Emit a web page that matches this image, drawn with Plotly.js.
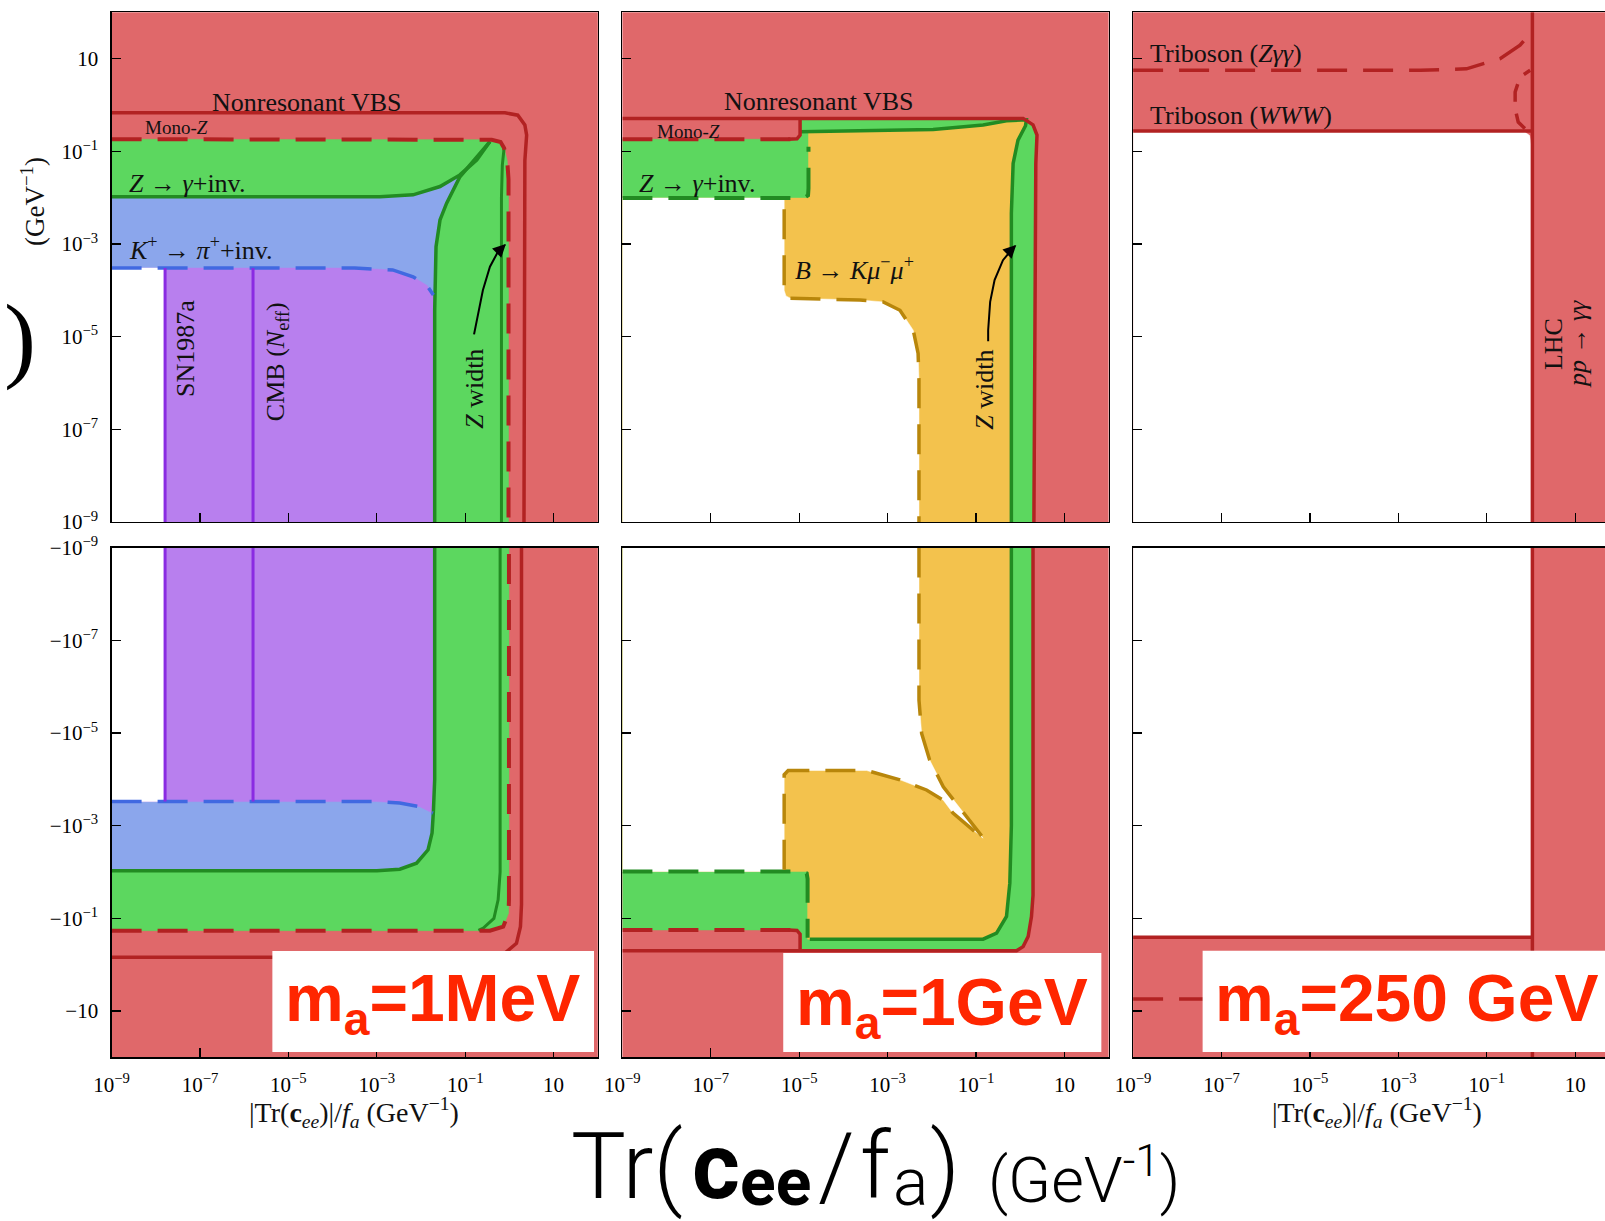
<!DOCTYPE html>
<html><head><meta charset="utf-8">
<script src="https://cdn.plot.ly/plotly-3.0.1.min.js"></script>
<style>body{margin:0;background:#fff}#chart{width:1605px;height:1221px}</style>
</head><body><div id="chart"></div>
<script>
// ---------- axis ticks (exponents of 10) ----------
const TICK_EXP = [-9, -7, -5, -3, -1, 1];
const TICK_TXT_POS = ['10<sup>−9</sup>','10<sup>−7</sup>','10<sup>−5</sup>','10<sup>−3</sup>','10<sup>−1</sup>','10'];
const TICK_TXT_NEG = ['−10<sup>−9</sup>','−10<sup>−7</sup>','−10<sup>−5</sup>','−10<sup>−3</sup>','−10<sup>−1</sup>','−10'];

// All region data below are log10 exponents: x = |Tr(c_ee)|/f_a, y = |coupling| (GeV^-1)
// ---------- Panel 1 : m_a = 1 MeV, upper half ----------
const p1t_green_x = [-9, -9, -0.40, -0.20, -0.12, -0.05, -0.02, -0.02];
const p1t_green_y = [-9, -0.74, -0.75, -0.80, -0.93, -1.20, -1.60, -9];
const p1t_blue_x = [-9, -9, -2.93, -2.18, -1.57, -1.12, -0.74, -0.44, -0.74, -1.12, -1.42, -1.57, -1.66, -1.69, -1.69];
const p1t_blue_y = [-9, -1.98, -1.98, -1.94, -1.76, -1.51, -1.19, -0.79, -1.12, -1.55, -2.12, -2.48, -3.06, -4.43, -9];
const p1t_purple_x = [-9, -9, -3.5, -2.64, -2.18, -1.87, -1.72, -1.69, -1.69];
const p1t_purple_y = [-9, -3.52, -3.52, -3.56, -3.71, -3.89, -4.10, -4.43, -9];
const p1t_white_x = [-9, -9, -7.79, -7.79];
const p1t_white_y = [-9, -3.52, -3.52, -9];
const p1t_gtop_x = [-9, -2.93, -2.18, -1.57, -1.12, -0.74, -0.44];
const p1t_gtop_y = [-1.98, -1.98, -1.94, -1.76, -1.51, -1.19, -0.79];
const p1t_gside_x = [-0.44, -0.74, -1.12, -1.42, -1.57, -1.66, -1.69, -1.69];
const p1t_gside_y = [-0.79, -1.12, -1.55, -2.12, -2.48, -3.06, -4.43, -9];
const p1t_g2_x = [-0.12, -0.16, -0.18, -0.18];
const p1t_g2_y = [-0.93, -1.30, -2.0, -9];
const p1t_kdash_x = [-9, -3.5, -2.64, -2.18, -1.87, -1.72];
const p1t_kdash_y = [-3.52, -3.52, -3.56, -3.71, -3.89, -4.10];
const p1t_rdash_x = [-9, -0.40, -0.20, -0.12, -0.05, -0.02, -0.02];
const p1t_rdash_y = [-0.74, -0.75, -0.80, -0.93, -1.20, -1.60, -9];
const p1t_vbs_x = [-9, -0.10, 0.19, 0.35, 0.39, 0.35, 0.33];
const p1t_vbs_y = [-0.17, -0.17, -0.22, -0.43, -0.65, -1.20, -9];
const p1t_sn_x = [-7.79, -7.79], p1t_sn_y = [-3.52, -9];
const p1t_cmb_x = [-5.80, -5.80], p1t_cmb_y = [-3.52, -9];
const p1t_arrow_x = [-0.80, -0.72, -0.60, -0.44, -0.26, -0.10];
const p1t_arrow_y = [-4.95, -4.55, -4.00, -3.49, -3.17, -3.02];

// ---------- Panel 1 : lower half (negative couplings, magnitudes) ----------
const p1b_green_x = [-9, -9, -0.44, -0.14, -0.02, -0.01, -0.01];
const p1b_green_y = [-9, -0.735, -0.735, -0.82, -1.11, -1.40, -9];
const p1b_blue_x = [-9, -3.0, -2.48, -2.10, -1.84, -1.75, -1.72, -1.69, -1.69, -9];
const p1b_blue_y = [-2.03, -2.03, -2.06, -2.19, -2.48, -2.84, -3.30, -4.0, -9, -9];
const p1b_purple_x = [-9, -3.0, -2.48, -2.03, -1.73, -1.70, -1.69, -9];
const p1b_purple_y = [-3.52, -3.52, -3.49, -3.41, -3.27, -3.6, -9, -9];
const p1b_white_x = [-9, -7.79, -7.79, -9];
const p1b_white_y = [-9, -9, -3.52, -3.52];
const p1b_gline_x = [-9, -3.0, -2.48, -2.10, -1.84, -1.75, -1.72, -1.69, -1.69];
const p1b_gline_y = [-2.03, -2.03, -2.06, -2.19, -2.48, -2.84, -3.30, -4.0, -9];
const p1b_g2_x = [-0.70, -0.59, -0.35, -0.255, -0.21, -0.21];
const p1b_g2_y = [-0.74, -0.79, -1.0, -1.40, -2.0, -9];
const p1b_kdash_x = [-9, -3.0, -2.48, -2.03, -1.73];
const p1b_kdash_y = [-3.52, -3.52, -3.49, -3.41, -3.27];
const p1b_rdash_x = [-9, -0.44, -0.14, -0.02, -0.01, -0.01];
const p1b_rdash_y = [-0.735, -0.735, -0.82, -1.11, -1.40, -9];
const p1b_vbs_x = [-9, -0.60, -0.10, 0.16, 0.25, 0.274, 0.274];
const p1b_vbs_y = [-0.16, -0.16, -0.25, -0.46, -0.82, -1.3, -9];
const p1b_sn_x = [-7.79, -7.79], p1b_sn_y = [-9, -3.52];
const p1b_cmb_x = [-5.80, -5.80], p1b_cmb_y = [-9, -3.52];

// ---------- Panel 2 : m_a = 1 GeV, upper half ----------
const p2t_green_x = [-9, -9, -5.10, -4.98, -4.98, 0.066, 0.29, 0.38, 0.353, 0.31];
const p2t_green_y = [-9, -0.74, -0.74, -0.70, -0.29, -0.29, -0.43, -0.65, -1.26, -9];
const p2t_orange_x = [-9, -9, -4.79, -4.79, -3.475, -1.97, -0.84, -0.31, 0.14, 0.12, -0.05, -0.16, -0.20, -0.20];
const p2t_orange_y = [-9, -2.01, -2.01, -0.58, -0.556, -0.53, -0.43, -0.34, -0.32, -0.45, -0.76, -1.26, -2.34, -9];
const p2t_white_x = [-9, -9, -5.34, -5.34, -5.30, -5.20, -3.63, -3.10, -2.72, -2.42, -2.31, -2.29, -2.29];
const p2t_white_y = [-9, -2.01, -2.01, -4.00, -4.12, -4.17, -4.21, -4.25, -4.43, -4.86, -5.36, -5.94, -9];
const p2t_vbs_x = [-9, 0.066, 0.29, 0.38, 0.353, 0.31];
const p2t_vbs_y = [-0.29, -0.29, -0.43, -0.65, -1.26, -9];
const p2t_monoz_dash_x = [-9, -5.10], p2t_monoz_dash_y = [-0.74, -0.74];
const p2t_monoz_edge_x = [-5.25, -5.05, -4.98, -4.98];
const p2t_monoz_edge_y = [-0.74, -0.73, -0.65, -0.29];
const p2t_gline_x = [-4.98, -3.475, -1.97, -0.84, -0.31, 0.14, 0.12, -0.05, -0.16, -0.20, -0.20];
const p2t_gline_y = [-0.58, -0.556, -0.53, -0.43, -0.34, -0.32, -0.45, -0.76, -1.26, -2.34, -9];
const p2t_gdash_x = [-9, -4.90, -4.80, -4.79, -4.79];
const p2t_gdash_y = [-2.01, -2.01, -1.95, -1.80, -0.90];
const p2t_odash_x = [-5.34, -5.34, -5.30, -5.20, -3.63, -3.10, -2.72, -2.42, -2.31, -2.29, -2.29];
const p2t_odash_y = [-2.25, -4.00, -4.12, -4.17, -4.21, -4.25, -4.43, -4.86, -5.36, -5.94, -9];
const p2t_arrow_x = [-0.725, -0.725, -0.68, -0.58, -0.39, -0.12];
const p2t_arrow_y = [-5.10, -4.86, -4.25, -3.78, -3.35, -3.04];

// ---------- Panel 2 : lower half ----------
const p2b_green_x = [-9, -9, -5.10, -4.98, -4.98, -0.083, 0.066, 0.18, 0.255, 0.29, 0.29];
const p2b_green_y = [-9, -0.75, -0.75, -0.70, -0.30, -0.30, -0.39, -0.61, -1.04, -1.5, -9];
const p2b_orange_x = [-9, -0.20, -0.20, -0.235, -0.31, -0.535, -0.84, -4.81, -4.81, -9];
const p2b_orange_y = [-9, -9, -3.0, -1.76, -1.04, -0.68, -0.55, -0.55, -2.01, -2.01];
const p2b_white_x = [-9, -2.29, -2.29, -2.23, -2.05, -1.74, -1.21, -0.84, -1.52, -1.74, -2.12, -2.72, -3.475, -5.25, -5.34, -5.34, -9];
const p2b_white_y = [-9, -9, -5.71, -4.99, -4.42, -3.84, -3.19, -2.73, -3.27, -3.55, -3.77, -3.99, -4.19, -4.19, -4.10, -2.01, -2.01];
const p2b_vbs_x = [-9, -0.083, 0.066, 0.18, 0.255, 0.29, 0.29];
const p2b_vbs_y = [-0.30, -0.30, -0.39, -0.61, -1.04, -1.5, -9];
const p2b_monoz_dash_x = [-9, -5.10], p2b_monoz_dash_y = [-0.75, -0.75];
const p2b_monoz_edge_x = [-5.25, -5.05, -4.98, -4.98];
const p2b_monoz_edge_y = [-0.75, -0.74, -0.66, -0.30];
const p2b_gline_x = [-4.76, -0.84, -0.535, -0.31, -0.235, -0.20, -0.20];
const p2b_gline_y = [-0.55, -0.55, -0.68, -1.04, -1.76, -3.0, -9];
const p2b_gdash_x = [-9, -4.95, -4.83, -4.81, -4.81];
const p2b_gdash_y = [-2.01, -2.01, -1.97, -1.85, -0.58];
const p2b_odash1_x = [-5.34, -5.34, -5.25, -3.475, -2.72, -2.12, -1.74, -1.52, -0.84];
const p2b_odash1_y = [-2.05, -4.10, -4.19, -4.19, -3.99, -3.77, -3.55, -3.27, -2.72];
const p2b_odash2_x = [-2.29, -2.29, -2.23, -2.05, -1.74, -1.21, -0.84];
const p2b_odash2_y = [-9, -5.71, -4.99, -4.42, -3.84, -3.19, -2.74];

// ---------- Panel 3 : m_a = 250 GeV ----------
const p3t_white_x = [-9, -9, -0.15, -0.03, 0.0, 0.0];
const p3t_white_y = [-9, -0.58, -0.58, -0.66, -0.85, -9];
const p3t_www_x = [-9, -0.30, 0.03], p3t_www_y = [-0.56, -0.56, -0.56];
const p3t_curl_x = [-0.14, -0.29, -0.36, -0.36, -0.25, -0.02];
const p3t_curl_y = [-0.51, -0.37, -0.08, 0.28, 0.60, 0.75];
const p3t_zgg_x = [-9, -2.5, -1.46, -0.70, -0.25, -0.06];
const p3t_zgg_y = [0.75, 0.75, 0.78, 1.0, 1.29, 1.50];
const p3_lhc_x = [0.03, 0.03], p3_lhc_y = [-9, 2];
const p3b_white_x = [-9, -9, 0.0, 0.0];
const p3b_white_y = [-9, -0.62, -0.62, -9];
const p3b_www_x = [-9, 0.03], p3b_www_y = [-0.59, -0.59];
const p3b_zgg_x = [-9, -2.0], p3b_zgg_y = [0.74, 0.74];

// ---------- colours ----------
const RED_FILL = '#E0686A', RED_LINE = '#B22222';
const GREEN_FILL = '#5CD75F', GREEN_LINE = '#228B22';
const BLUE_FILL = '#8BA6EC', BLUE_LINE = '#4169E1';
const PURPLE_FILL = '#B87FEE', PURPLE_LINE = '#8A2BE2';
const ORANGE_FILL = '#F3C24D', ORANGE_LINE = '#B8860B';
const DASH = '30px,16px';
const SERIF = 'Liberation Serif, DejaVu Serif, serif';
const SANS_T = 'Roboto, Liberation Sans, sans-serif';

const AX = [['x','y'],['x2','y2'],['x3','y3'],['x4','y4'],['x5','y5'],['x6','y6']];
const P = a => a.map(e => Math.pow(10, e));
function fillT(p, xs, ys, c) {
  return {type:'scatter', mode:'lines', x:P(xs), y:P(ys), xaxis:AX[p][0], yaxis:AX[p][1],
    fill:'toself', fillcolor:c, line:{width:0.5, color:c}, hoverinfo:'skip', showlegend:false};
}
function lineT(p, xs, ys, c, w, dash) {
  return {type:'scatter', mode:'lines', x:P(xs), y:P(ys), xaxis:AX[p][0], yaxis:AX[p][1],
    line:{color:c, width:w, dash:dash || 'solid'}, hoverinfo:'skip', showlegend:false};
}

const fills = [
  fillT(0, p1t_green_x, p1t_green_y, GREEN_FILL),
  fillT(0, p1t_blue_x, p1t_blue_y, BLUE_FILL),
  fillT(0, p1t_purple_x, p1t_purple_y, PURPLE_FILL),
  fillT(0, p1t_white_x, p1t_white_y, '#FFFFFF'),
  fillT(3, p1b_green_x, p1b_green_y, GREEN_FILL),
  fillT(3, p1b_blue_x, p1b_blue_y, BLUE_FILL),
  fillT(3, p1b_purple_x, p1b_purple_y, PURPLE_FILL),
  fillT(3, p1b_white_x, p1b_white_y, '#FFFFFF'),
  fillT(1, p2t_green_x, p2t_green_y, GREEN_FILL),
  fillT(1, p2t_orange_x, p2t_orange_y, ORANGE_FILL),
  fillT(1, p2t_white_x, p2t_white_y, '#FFFFFF'),
  fillT(4, p2b_green_x, p2b_green_y, GREEN_FILL),
  fillT(4, p2b_orange_x, p2b_orange_y, ORANGE_FILL),
  fillT(4, p2b_white_x, p2b_white_y, '#FFFFFF'),
  fillT(2, p3t_white_x, p3t_white_y, '#FFFFFF'),
  fillT(5, p3b_white_x, p3b_white_y, '#FFFFFF')
];
const lines = [
  lineT(0, p1t_gtop_x, p1t_gtop_y, GREEN_LINE, 3.5),
  lineT(0, p1t_gside_x, p1t_gside_y, GREEN_LINE, 3.5),
  lineT(0, p1t_g2_x, p1t_g2_y, GREEN_LINE, 3),
  lineT(0, p1t_kdash_x, p1t_kdash_y, BLUE_LINE, 3.5, DASH),
  lineT(0, p1t_rdash_x, p1t_rdash_y, RED_LINE, 4, DASH),
  lineT(0, p1t_vbs_x, p1t_vbs_y, RED_LINE, 3.5),
  lineT(0, p1t_sn_x, p1t_sn_y, PURPLE_LINE, 3),
  lineT(0, p1t_cmb_x, p1t_cmb_y, PURPLE_LINE, 3),
  lineT(0, p1t_arrow_x, p1t_arrow_y, '#000000', 2),
  lineT(3, p1b_gline_x, p1b_gline_y, GREEN_LINE, 3.5),
  lineT(3, p1b_g2_x, p1b_g2_y, GREEN_LINE, 3),
  lineT(3, p1b_kdash_x, p1b_kdash_y, BLUE_LINE, 3.5, DASH),
  lineT(3, p1b_rdash_x, p1b_rdash_y, RED_LINE, 4, DASH),
  lineT(3, p1b_vbs_x, p1b_vbs_y, RED_LINE, 3.5),
  lineT(3, p1b_sn_x, p1b_sn_y, PURPLE_LINE, 3),
  lineT(3, p1b_cmb_x, p1b_cmb_y, PURPLE_LINE, 3),
  lineT(1, p2t_gline_x, p2t_gline_y, GREEN_LINE, 3.5),
  lineT(1, p2t_gdash_x, p2t_gdash_y, GREEN_LINE, 4, DASH),
  lineT(1, p2t_odash_x, p2t_odash_y, ORANGE_LINE, 3.5, DASH),
  lineT(1, p2t_monoz_dash_x, p2t_monoz_dash_y, RED_LINE, 4, DASH),
  lineT(1, p2t_monoz_edge_x, p2t_monoz_edge_y, RED_LINE, 3.5),
  lineT(1, p2t_vbs_x, p2t_vbs_y, RED_LINE, 3.5),
  lineT(1, p2t_arrow_x, p2t_arrow_y, '#000000', 2),
  lineT(4, p2b_gline_x, p2b_gline_y, GREEN_LINE, 3.5),
  lineT(4, p2b_gdash_x, p2b_gdash_y, GREEN_LINE, 4, DASH),
  lineT(4, p2b_odash1_x, p2b_odash1_y, ORANGE_LINE, 3.5, DASH),
  lineT(4, p2b_odash2_x, p2b_odash2_y, ORANGE_LINE, 3.5, DASH),
  lineT(4, p2b_monoz_dash_x, p2b_monoz_dash_y, RED_LINE, 4, DASH),
  lineT(4, p2b_monoz_edge_x, p2b_monoz_edge_y, RED_LINE, 3.5),
  lineT(4, p2b_vbs_x, p2b_vbs_y, RED_LINE, 3.5),
  lineT(2, p3t_www_x, p3t_www_y, RED_LINE, 3.5),
  lineT(2, p3t_curl_x, p3t_curl_y, RED_LINE, 3.5, '18px,12px'),
  lineT(2, p3t_zgg_x, p3t_zgg_y, RED_LINE, 3.5, DASH),
  lineT(2, p3_lhc_x, p3_lhc_y, RED_LINE, 3.5),
  lineT(5, p3b_www_x, p3b_www_y, RED_LINE, 3.5),
  lineT(5, p3b_zgg_x, p3b_zgg_y, RED_LINE, 3.5, DASH),
  lineT(5, p3_lhc_x, p3_lhc_y, RED_LINE, 3.5)
];

const TV = TICK_EXP.map(e => Math.pow(10, e));
function xa(domain, range, labels, anchor) {
  return {type:'log', domain:domain, range:range, anchor:anchor, tickmode:'array', tickvals:TV,
    ticktext:TICK_TXT_POS, showticklabels:labels, ticks:'inside', ticklen:9, tickwidth:1.2,
    tickcolor:'#000', showline:true, linecolor:'#000', linewidth:1.2, mirror:true,
    showgrid:false, zeroline:false, ticklabelstandoff:8,
    tickfont:{family:SERIF, size:21, color:'#000'}, fixedrange:true};
}
function ya(domain, range, txt, labels, anchor, mirror) {
  return {type:'log', domain:domain, range:range, anchor:anchor, tickmode:'array', tickvals:TV,
    ticktext:txt, showticklabels:labels, ticks:'inside', ticklen:9, tickwidth:1.2,
    tickcolor:'#000', showline:true, linecolor:'#000', linewidth:1.2, mirror:mirror,
    showgrid:false, zeroline:false, ticklabelstandoff:8,
    tickfont:{family:SERIF, size:21, color:'#000'}, fixedrange:true};
}
const XD = [[0.06953, 0.37246], [0.38779, 0.69072], [0.70598, 1]];
const YT = [0.57248, 0.98993], YB = [0.13399, 0.55151];

function lab(xr, yr, x, y, text, opt) {
  return Object.assign({xref:xr, yref:yr, x:x, y:y, text:text, showarrow:false,
    xanchor:'center', yanchor:'middle', font:{family:SERIF, size:26, color:'#111'}}, opt || {});
}
function arrowHead(xr, yr, x, y) {
  return {xref:xr, yref:yr, x:x, y:y, text:'', showarrow:true, arrowhead:2, arrowsize:1.3,
    arrowwidth:2, arrowcolor:'#000', ax:-8, ay:8, standoff:0};
}
const BOXFONT = {family:'Liberation Sans, Arial, sans-serif', size:66, color:'#FF2600'};
const BIG = {family:SANS_T, size:92, color:'#000', weight:300};
const BIGSUB = {family:SANS_T, size:66, color:'#000', weight:300};
const annotations = [
  lab('x','y',-4.58,0.063,'Nonresonant VBS'),
  lab('x','y',-7.54,-0.476,'Mono-<i>Z</i>',{font:{family:SERIF,size:19,color:'#111'}}),
  lab('x','y',-8.66,-1.69,'<i>Z</i> → <i>γ</i>+inv.',{xanchor:'left'}),
  lab('x','y',-8.66,-3.09,'<i>K</i><sup>+</sup> → <i>π</i><sup>+</sup>+inv.',{xanchor:'left'}),
  lab('x','y',-7.34,-5.245,'SN1987a',{textangle:-90}),
  lab('x','y',-5.27,-5.54,'CMB (<i>N</i><sub>eff</sub>)',{textangle:-90}),
  lab('x','y',-0.805,-6.13,'<i>Z</i> width',{textangle:-90}),
  arrowHead('x','y',-0.08,-3.0),
  lab('x2','y2',-4.57,0.07,'Nonresonant VBS'),
  lab('x2','y2',-7.51,-0.58,'Mono-<i>Z</i>',{font:{family:SERIF,size:19,color:'#111'}}),
  lab('x2','y2',-8.68,-1.69,'<i>Z</i> → <i>γ</i>+inv.',{xanchor:'left'}),
  lab('x2','y2',-5.135,-3.525,'<i>B</i> → <i>Kμ</i><sup>−</sup><i>μ</i><sup>+</sup>',{xanchor:'left'}),
  lab('x2','y2',-0.80,-6.15,'<i>Z</i> width',{textangle:-90}),
  arrowHead('x2','y2',-0.09,-3.02),
  lab('x3','y3',-8.66,1.106,'Triboson (<i>Zγγ</i>)',{xanchor:'left'}),
  lab('x3','y3',-8.66,-0.224,'Triboson (<i>WWW</i>)',{xanchor:'left'}),
  lab('x3','y3',0.496,-5.16,'LHC',{textangle:-90}),
  lab('x3','y3',1.04,-5.16,'<i>pp</i> → <i>γγ</i>',{textangle:-90}),
  // mass labels
  lab('paper','paper',0.2692,0.1785,'<b>m<sub>a</sub>=1MeV</b>',{font:BOXFONT}),
  lab('paper','paper',0.5869,0.1753,'<b>m<sub>a</sub>=1GeV</b>',{font:BOXFONT}),
  lab('paper','paper',0.8766,0.1785,'<b>m<sub>a</sub>=250 GeV</b>',{font:BOXFONT}),
  // axis titles
  lab('paper','paper',0.2206,0.0885,'|Tr(<b>c</b><sub><i>ee</i></sub>)|/<i>f<sub>a</sub></i> (GeV<sup>−1</sup>)',{font:{family:SERIF,size:28,color:'#111'}}),
  lab('paper','paper',0.858,0.0885,'|Tr(<b>c</b><sub><i>ee</i></sub>)|/<i>f<sub>a</sub></i> (GeV<sup>−1</sup>)',{font:{family:SERIF,size:28,color:'#111'}}),
  // big common x title, pieced together
  lab('paper','paper',569/1605,0.0445,'Tr(',{xanchor:'left',font:BIG}),
  lab('paper','paper',690/1605,0.0445,'<b>c</b>',{xanchor:'left',font:BIG}),
  lab('paper','paper',738/1605,0.0315,'<b>ee</b>',{xanchor:'left',font:BIGSUB}),
  lab('paper','paper',816/1605,0.0445,'/',{xanchor:'left',font:BIG}),
  lab('paper','paper',858/1605,0.0445,'f',{xanchor:'left',font:BIG}),
  lab('paper','paper',891/1605,0.0315,'a',{xanchor:'left',font:BIGSUB}),
  lab('paper','paper',928/1605,0.0445,')',{xanchor:'left',font:BIG}),
  lab('paper','paper',986/1605,0.037,'(GeV<sup>-1</sup>)',{xanchor:'left',font:{family:SANS_T,size:63,color:'#000',weight:300}}),
  // clipped y title remnants
  lab('paper','paper',0.0206,0.8346,'(GeV<sup>−1</sup>)',{textangle:-90,font:{family:SERIF,size:27,color:'#111'}}),
  lab('paper','paper',0.0125,0.7232,')',{font:{family:SERIF,size:96,color:'#000'}})
];

const shapes = [
  {type:'rect', xref:'paper', yref:'paper', x0:0.1697, x1:0.3701, y0:0.1384, y1:0.2211, fillcolor:'#FFFFFF', line:{width:0}, layer:'above'},
  {type:'rect', xref:'paper', yref:'paper', x0:0.4880, x1:0.6862, y0:0.1384, y1:0.2195, fillcolor:'#FFFFFF', line:{width:0}, layer:'above'},
  {type:'rect', xref:'paper', yref:'paper', x0:0.7493, x1:1.0, y0:0.1384, y1:0.2214, fillcolor:'#FFFFFF', line:{width:0}, layer:'above'}
];

const layout = {
  width:1605, height:1221, margin:{l:0, r:0, t:0, b:0},
  paper_bgcolor:'#FFFFFF', plot_bgcolor:RED_FILL, showlegend:false,
  xaxis: xa(XD[0], [-9, 2], false, 'y'),
  xaxis2: xa(XD[1], [-9, 2], false, 'y2'),
  xaxis3: xa(XD[2], [-9, 1.672], false, 'y3'),
  xaxis4: xa(XD[0], [-9, 2], true, 'y4'),
  xaxis5: xa(XD[1], [-9, 2], true, 'y5'),
  xaxis6: xa(XD[2], [-9, 1.672], true, 'y6'),
  yaxis: ya(YT, [-9, 2], TICK_TXT_POS, true, 'x', true),
  yaxis2: ya(YT, [-9, 2], TICK_TXT_POS, false, 'x2', true),
  yaxis3: ya(YT, [-9, 2], TICK_TXT_POS, false, 'x3', false),
  yaxis4: ya(YB, [2, -9], TICK_TXT_NEG, true, 'x4', true),
  yaxis5: ya(YB, [2, -9], TICK_TXT_NEG, false, 'x5', true),
  yaxis6: ya(YB, [2, -9], TICK_TXT_NEG, false, 'x6', false),
  annotations: annotations,
  shapes: shapes
};

Plotly.newPlot('chart', fills.concat(lines), layout, {displayModeBar:false, staticPlot:true});
</script></body></html>
